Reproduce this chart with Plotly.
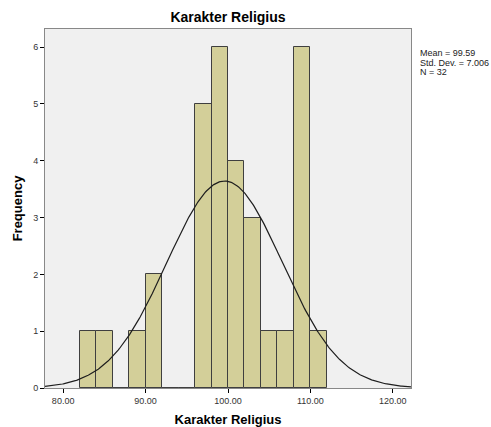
import numpy as np
import plotly.graph_objects as go

bin_left = [82, 84, 86, 88, 90, 92, 94, 96, 98, 100, 102, 104, 106, 108, 110]
counts = [1, 1, 0, 1, 2, 0, 0, 5, 6, 4, 3, 1, 1, 6, 1]
bin_width = 2
mean = 99.59
std = 7.006
n = 32
x_ticks = [80, 90, 100, 110, 120]
y_ticks = [0, 1, 2, 3, 4, 5, 6]
stat_lines = ["Mean = 99.59", "Std. Dev. = 7.006", "N = 32"]

centers = [b + bin_width / 2 for b in bin_left]

xs = np.linspace(77.8, 122.2, 400)
ys = n * bin_width * np.exp(-0.5 * ((xs - mean) / std) ** 2) / (std * np.sqrt(2 * np.pi))

fig = go.Figure()
fig.add_trace(go.Bar(
    x=centers, y=counts, width=bin_width,
    marker=dict(color="#D3CF99", line=dict(color="#3F3F3F", width=1)),
    hoverinfo="x+y",
))
fig.add_trace(go.Scatter(x=xs, y=ys, mode="lines",
                         line=dict(color="#1E1E1E", width=1.2), hoverinfo="skip"))

font = "Liberation Sans, Arial, sans-serif"
annots = []
for i, t in enumerate(stat_lines):
    annots.append(dict(
        text=t, xref="paper", yref="paper", x=1.02, y=0.933 - i * 0.0265,
        xanchor="left", yanchor="middle", showarrow=False, align="left",
        font=dict(size=9, color="#222"),
    ))

fig.update_layout(
    width=491, height=427,
    margin=dict(l=45, r=80, t=29, b=39, autoexpand=False),
    paper_bgcolor="white", plot_bgcolor="#F0F0F0",
    showlegend=False, bargap=0,
    font=dict(family=font, color="#000000", size=10),
    title=dict(text="<b>Karakter Religius</b>", x=0.5, xanchor="center",
               xref="paper", y=1, yref="container", yanchor="top", pad=dict(t=12),
               font=dict(size=14, family=font)),
    xaxis=dict(range=[77.8, 122.2], tickvals=x_ticks,
               ticktext=[f"{v:.2f}" for v in x_ticks],
               ticks="outside", ticklen=4, tickcolor="#000",
               showgrid=False, zeroline=False, showline=True, linecolor="#888888",
               mirror=True, linewidth=1, automargin=False,
               title=dict(text="<b>Karakter Religius</b>", font=dict(size=13), standoff=10),
               tickfont=dict(size=9, color="#333")),
    yaxis=dict(range=[0, 6.32], tickvals=y_ticks,
               ticks="outside", ticklen=4, tickcolor="#000",
               showgrid=False, zeroline=False, showline=True, linecolor="#888888",
               mirror=True, linewidth=1, automargin=False,
               title=dict(text="<b>Frequency</b>", font=dict(size=13), standoff=7),
               tickfont=dict(size=9, color="#333")),
    annotations=annots,
)
fig.write_html("out.html", config={"displayModeBar": False},
               post_script="document.body.style.margin='0';document.body.style.overflow='hidden';")
